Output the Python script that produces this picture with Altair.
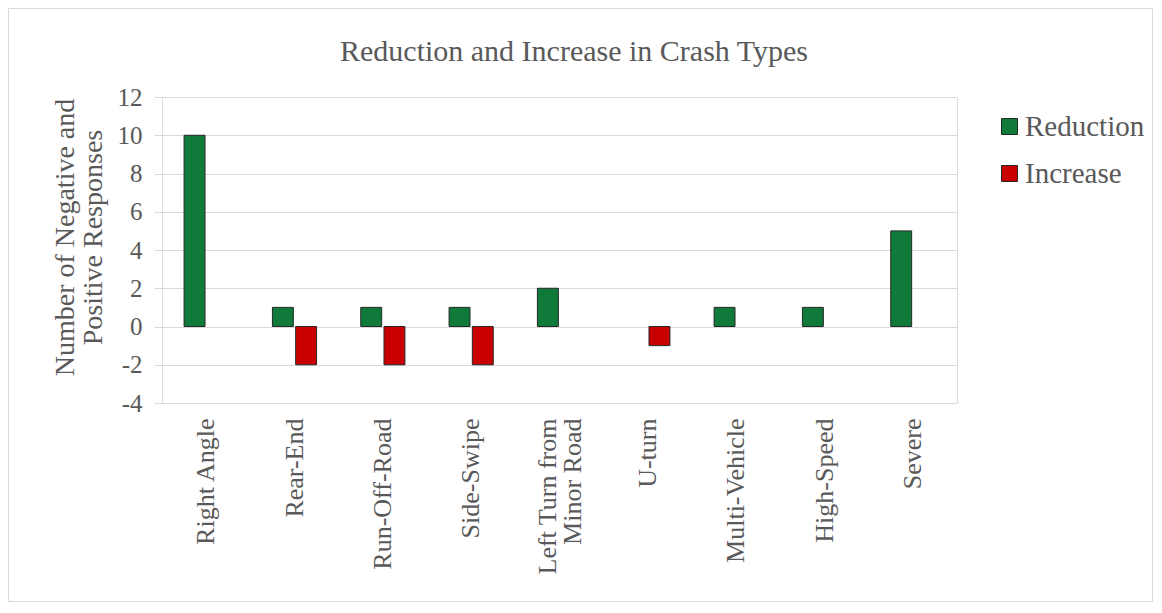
import altair as alt
import pandas as pd

categories = ["Right Angle", "Rear-End", "Run-Off-Road", "Side-Swipe",
              "Left Turn from Minor Road", "U-turn", "Multi-Vehicle",
              "High-Speed", "Severe"]
reduction = [10, 1, 1, 1, 2, None, 1, 1, 5]
increase = [None, -2, -2, -2, None, -1, None, None, None]
series = ["Reduction", "Increase"]
colors = ["#107A3A", "#C80000"]
y_ticks = [-4, -2, 0, 2, 4, 6, 8, 10, 12]
title_text = "Reduction and Increase in Crash Types"

rows = []
for c, r, i in zip(categories, reduction, increase):
    rows.append({"type": c, "series": "Reduction", "value": r})
    rows.append({"type": c, "series": "Increase", "value": i})
df = pd.DataFrame(rows).dropna()

FONT = "Liberation Serif"
GRAY = "#595959"

bars = alt.Chart(df).mark_bar(stroke="#262626", strokeWidth=1).encode(
    x=alt.X("type:N", sort=categories,
            scale=alt.Scale(domain=categories, paddingInner=0.5, paddingOuter=0.25),
            axis=alt.Axis(title=None, labelAngle=270, labelAlign="right",
                          labelBaseline="middle", labelPadding=15, ticks=False,
                          domain=False, grid=False, labelFont=FONT,
                          labelFontSize=26, labelColor=GRAY, labelLimit=400,
                          labelLineHeight=25,
                          labelOffset={"condition": {"test": "datum.label == 'Left Turn from Minor Road'", "value": -12}, "value": 0},
                          labelExpr="datum.label == 'Left Turn from Minor Road' ? ['Left Turn from', 'Minor Road'] : datum.label")),
    xOffset=alt.XOffset("series:N", scale=alt.Scale(domain=series, paddingInner=0.1)),
    y=alt.Y("value:Q", scale=alt.Scale(domain=[-4, 12], nice=False),
            axis=alt.Axis(values=y_ticks, title=["Number of Negative and", "Positive Responses"],
                          labelExpr="toString(datum.value)",
                          titleAngle=270, titleX=-97, titleY=140, titleAlign="center",
                          titleBaseline="middle", titleFont=FONT, titleFontSize=28,
                          titleFontWeight="normal", titleColor=GRAY, titleLineHeight=28,
                          labelFont=FONT, labelFontSize=25, labelColor=GRAY,
                          labelPadding=12, tickSize=8, tickColor="#d9d9d9",
                          domain=False, gridColor="#d9d9d9", gridWidth=1)),
    color=alt.Color("series:N", scale=alt.Scale(domain=series, range=colors),
                    legend=alt.Legend(title=None, orient="none", legendX=833, legendY=15,
                                      direction="vertical", symbolType="square",
                                      symbolSize=256, symbolStrokeColor="#262626",
                                      symbolStrokeWidth=1, labelFont=FONT,
                                      labelFontSize=29, labelColor=GRAY,
                                      labelOffset=1, rowPadding=17, padding=0)),
)

frame = alt.Chart(pd.DataFrame({"a": [0]})).mark_rect(
    fill=None, stroke="#d9d9d9", strokeWidth=1
).encode(x=alt.value(-153.5), x2=alt.value(990.5), y=alt.value(-88.5), y2=alt.value(504.5))

title = alt.Chart(pd.DataFrame({"t": [title_text]})).mark_text(
    font=FONT, fontSize=30, color=GRAY, align="center", baseline="alphabetic"
).encode(text="t:N", x=alt.value(412), y=alt.value(-36))

chart = alt.layer(frame, bars, title).properties(
    width=795, height=306,
    autosize=alt.AutoSizeParams(type="none"),
    padding={"left": 154, "top": 89, "right": 197, "bottom": 200},
).configure_view(stroke=None).configure(background="white")

chart.save("out.html", embed_options={"renderer": "svg", "actions": False})
